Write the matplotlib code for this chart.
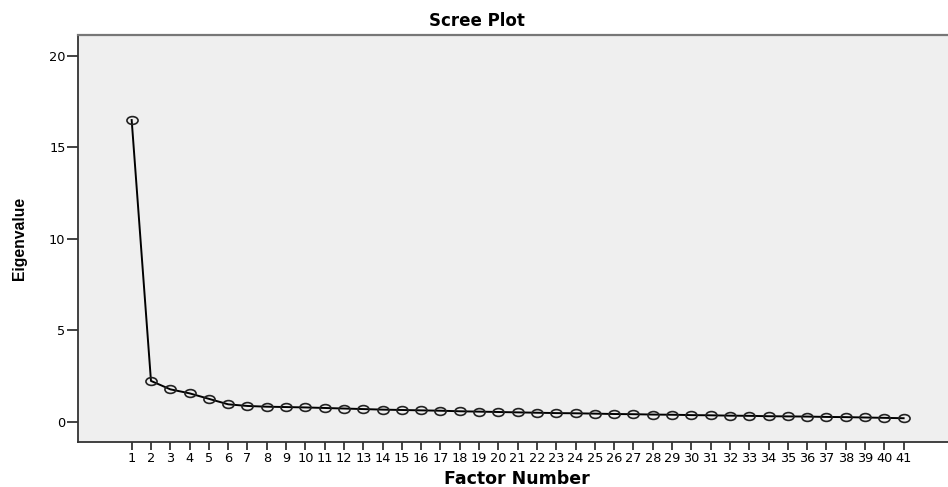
import matplotlib
matplotlib.use("Agg")
import matplotlib.pyplot as plt
from matplotlib.path import Path
from matplotlib.transforms import Affine2D

# eigenvalues
factors = list(range(1, 42))
eigenvalues = [16.5, 2.24, 1.78, 1.56, 1.26, 0.96, 0.87, 0.83, 0.81, 0.79,
               0.76, 0.73, 0.70, 0.67, 0.65, 0.63, 0.61, 0.58, 0.56, 0.54,
               0.52, 0.50, 0.48, 0.47, 0.45, 0.43, 0.42, 0.40, 0.39, 0.37,
               0.36, 0.34, 0.33, 0.31, 0.30, 0.29, 0.27, 0.26, 0.24, 0.22, 0.20]
y_ticks = [0, 5, 10, 15, 20]

plt.rcParams['font.family'] = ['DejaVu Sans']

fig = plt.figure(figsize=(9.48, 4.87), dpi=100)
ax = fig.add_axes([0.0823, 0.0924, 0.9177, 0.8358])
ax.set_facecolor('#efefef')

# squashed circle marker like the original
ellipse = Path.unit_circle().transformed(Affine2D().scale(1.0, 0.7))
ax.plot(factors, eigenvalues, color='black', lw=1.4, marker=ellipse,
        markersize=8, markerfacecolor='none', markeredgecolor='#222222',
        markeredgewidth=1.2)

ax.set_xlim(-1.78, 43.3)
ax.set_ylim(-1.1, 21.15)
ax.set_xticks(factors)
ax.set_xticklabels([str(f) for f in factors])
ax.set_yticks(y_ticks)

ax.tick_params(axis='x', length=6, width=1.2, labelsize=9.3, pad=1, color='#222222')
ax.tick_params(axis='y', length=8, width=1.2, labelsize=9.3, pad=1, color='#222222')

ax.spines['right'].set_visible(False)
ax.spines['top'].set_color('#777777')
ax.spines['top'].set_linewidth(1.6)
ax.spines['left'].set_color('#333333')
ax.spines['left'].set_linewidth(1.3)
ax.spines['bottom'].set_color('#333333')
ax.spines['bottom'].set_linewidth(1.3)

fig.text(477 / 948, 1 - 21 / 487, 'Scree Plot', ha='center', va='center',
         fontsize=12, fontweight='bold')
fig.text(517 / 948, 1 - 479 / 487, 'Factor Number', ha='center', va='center',
         fontsize=12.5, fontweight='bold')
fig.text(20 / 948, 1 - 238 / 487, 'Eigenvalue', ha='center', va='center',
         rotation=90, fontsize=11.3, fontweight='bold',
         family=['Liberation Sans', 'DejaVu Sans'])

fig.savefig('out.png', dpi=100)
